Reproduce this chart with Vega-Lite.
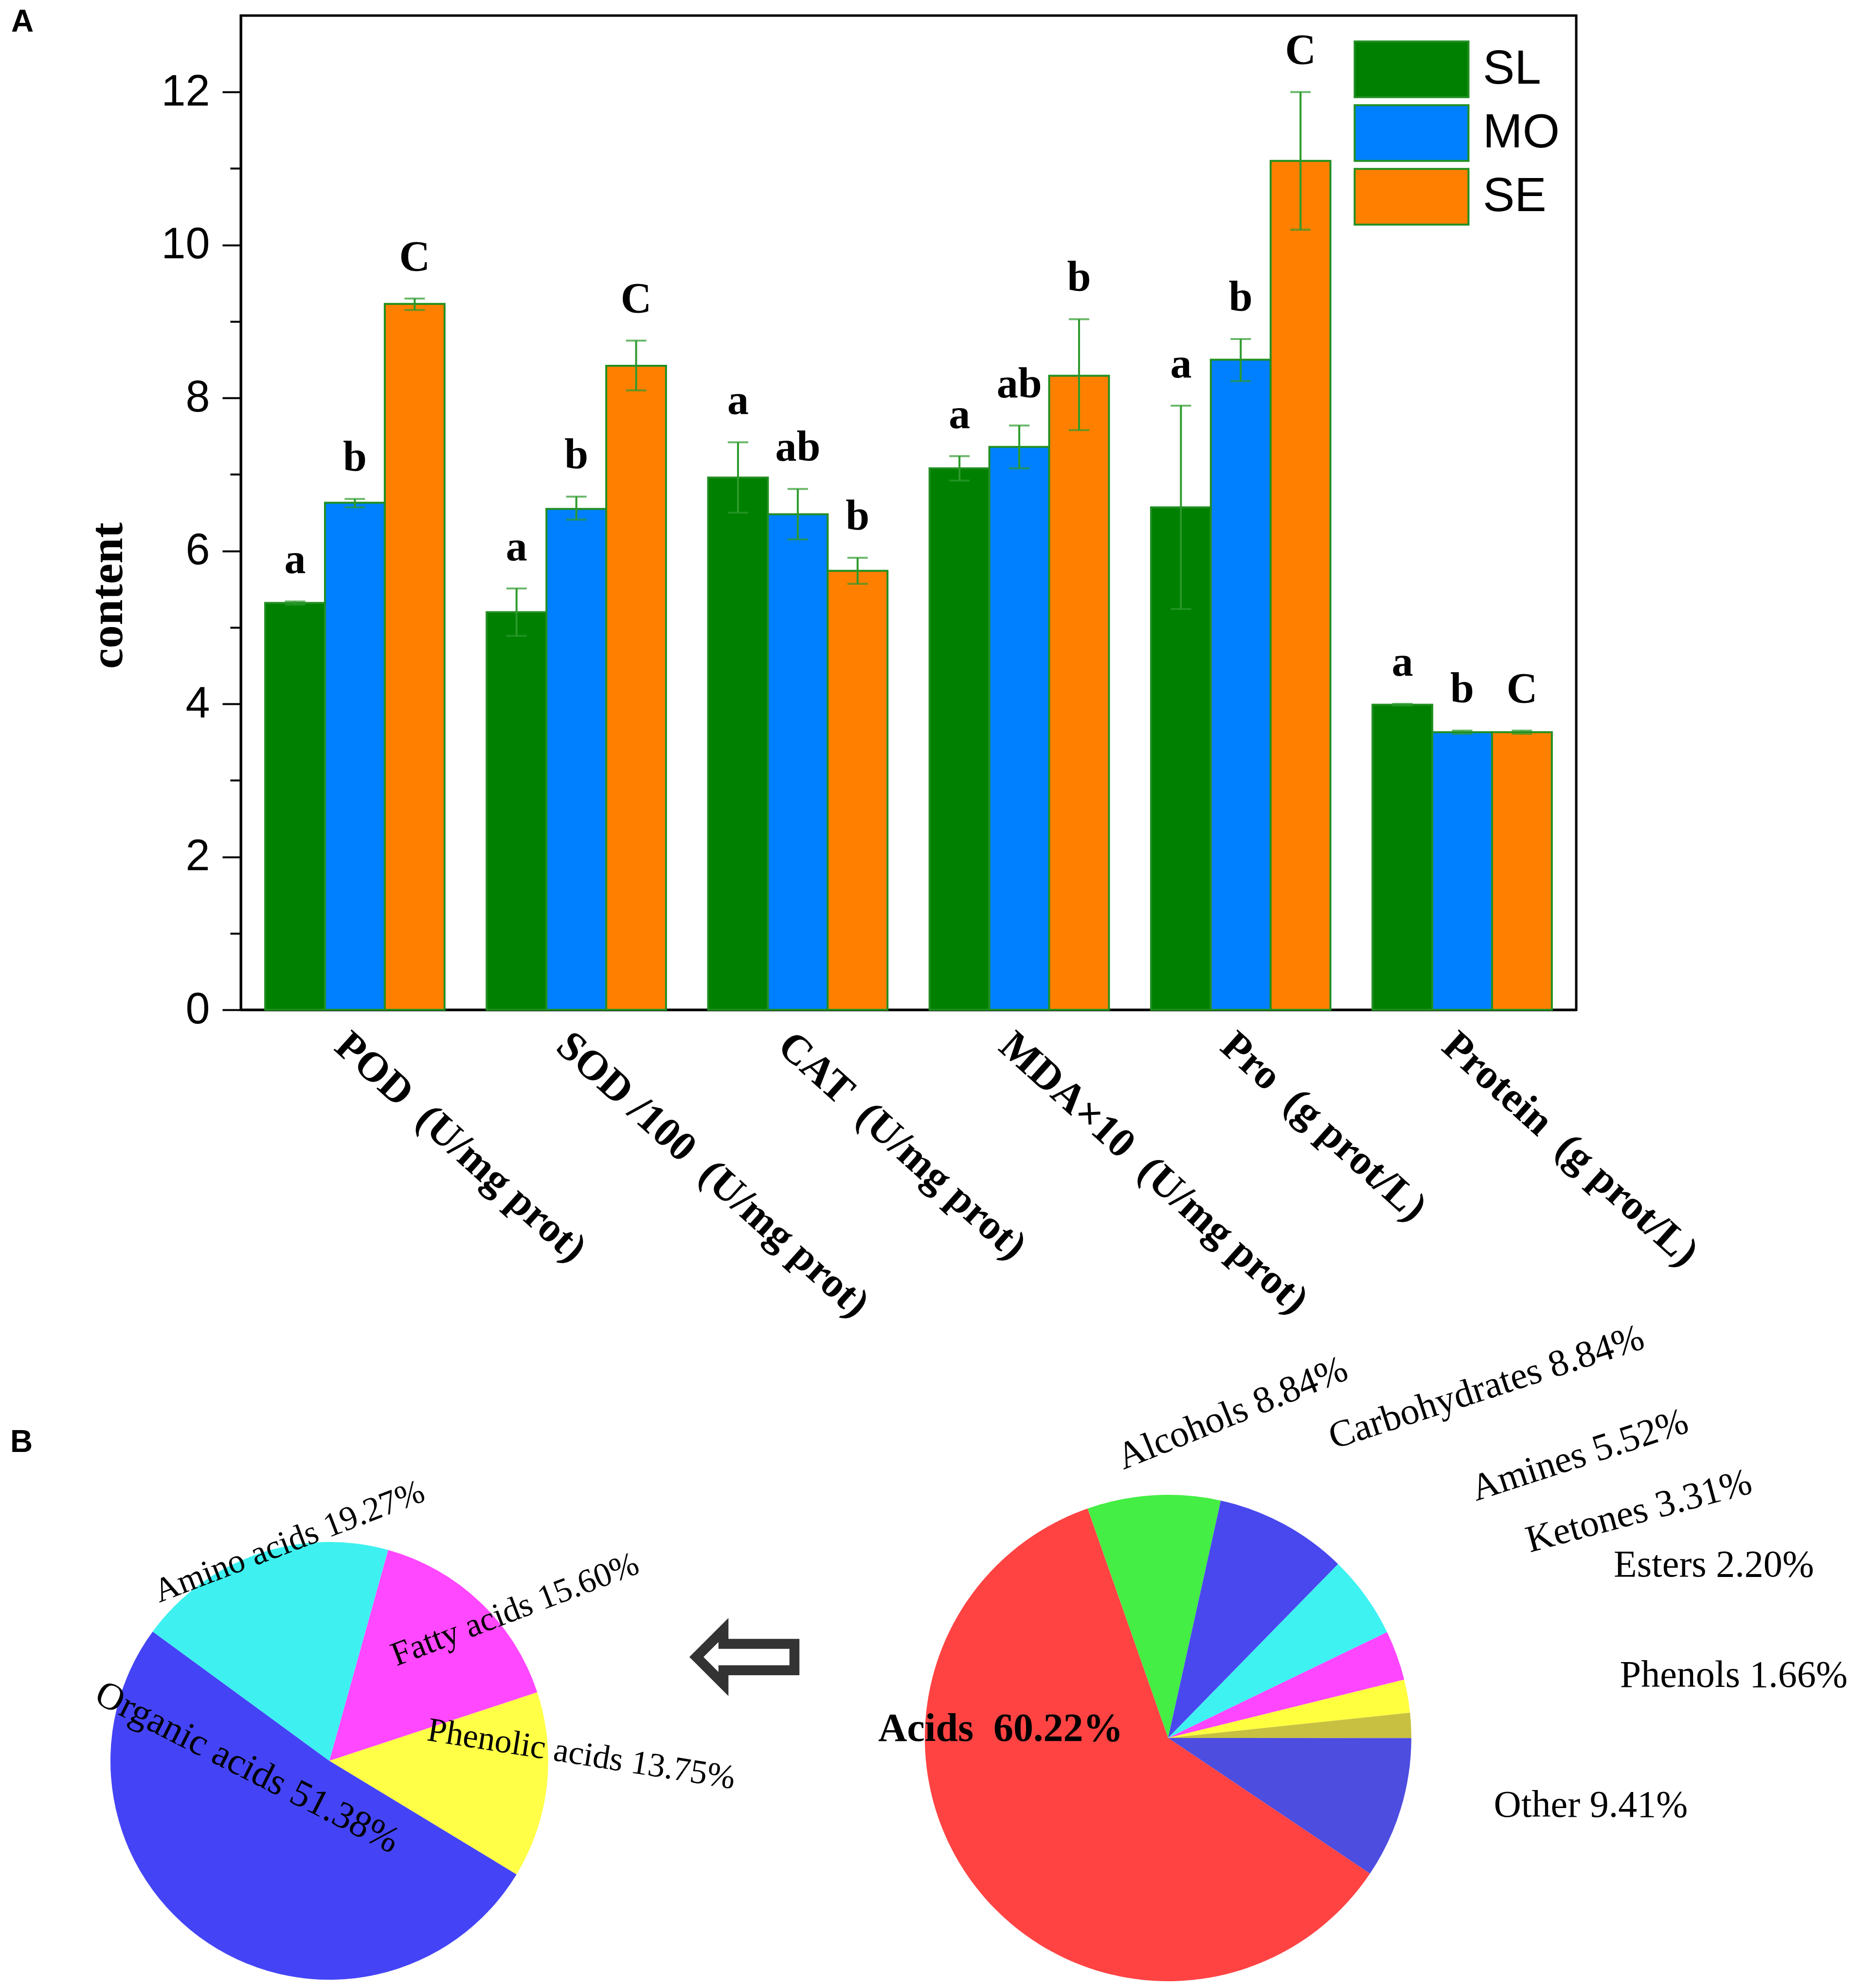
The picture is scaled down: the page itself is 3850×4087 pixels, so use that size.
{
  "$schema": "https://vega.github.io/schema/vega-lite/v6.json",
  "background": "white",
  "padding": {"left": 20, "top": 11, "right": 0, "bottom": 0},
  "config": {"view": {"stroke": null}, "font": "Liberation Sans"},
  "bounds": "flush",
  "spacing": 1300,
  "vconcat": [
    {
      "width": 2745,
      "height": 2044,
      "view": {"stroke": "black", "strokeWidth": 5},
      "title": {"text": "A", "anchor": "start", "frame": "group", "orient": "top", "font": "Liberation Sans", "fontWeight": "bold", "fontSize": 64, "color": "black", "baseline": "alphabetic", "offset": 0, "dx": -472, "dy": 97},
      "data": {"values": [
        {"cat": "POD \u00a0(U/mg prot)", "grp": "SL", "value": 5.32, "lo": 5.30, "hi": 5.34, "letter": "a"},
        {"cat": "POD \u00a0(U/mg prot)", "grp": "MO", "value": 6.63, "lo": 6.57, "hi": 6.68, "letter": "b"},
        {"cat": "POD \u00a0(U/mg prot)", "grp": "SE", "value": 9.23, "lo": 9.15, "hi": 9.30, "letter": "C"},
        {"cat": "SOD /100 \u00a0(U/mg prot)", "grp": "SL", "value": 5.20, "lo": 4.89, "hi": 5.51, "letter": "a"},
        {"cat": "SOD /100 \u00a0(U/mg prot)", "grp": "MO", "value": 6.55, "lo": 6.41, "hi": 6.71, "letter": "b"},
        {"cat": "SOD /100 \u00a0(U/mg prot)", "grp": "SE", "value": 8.42, "lo": 8.10, "hi": 8.75, "letter": "C"},
        {"cat": "CAT \u00a0(U/mg prot)", "grp": "SL", "value": 6.96, "lo": 6.50, "hi": 7.42, "letter": "a"},
        {"cat": "CAT \u00a0(U/mg prot)", "grp": "MO", "value": 6.48, "lo": 6.15, "hi": 6.81, "letter": "ab"},
        {"cat": "CAT \u00a0(U/mg prot)", "grp": "SE", "value": 5.74, "lo": 5.57, "hi": 5.91, "letter": "b"},
        {"cat": "MDA×10 \u00a0(U/mg prot)", "grp": "SL", "value": 7.08, "lo": 6.92, "hi": 7.24, "letter": "a"},
        {"cat": "MDA×10 \u00a0(U/mg prot)", "grp": "MO", "value": 7.36, "lo": 7.08, "hi": 7.64, "letter": "ab"},
        {"cat": "MDA×10 \u00a0(U/mg prot)", "grp": "SE", "value": 8.29, "lo": 7.58, "hi": 9.03, "letter": "b"},
        {"cat": "Pro \u00a0(g prot/L)", "grp": "SL", "value": 6.57, "lo": 5.24, "hi": 7.90, "letter": "a"},
        {"cat": "Pro \u00a0(g prot/L)", "grp": "MO", "value": 8.50, "lo": 8.22, "hi": 8.77, "letter": "b"},
        {"cat": "Pro \u00a0(g prot/L)", "grp": "SE", "value": 11.10, "lo": 10.20, "hi": 12.00, "letter": "C"},
        {"cat": "Protein \u00a0(g prot/L)", "grp": "SL", "value": 3.99, "lo": 3.98, "hi": 4.00, "letter": "a"},
        {"cat": "Protein \u00a0(g prot/L)", "grp": "MO", "value": 3.63, "lo": 3.61, "hi": 3.65, "letter": "b"},
        {"cat": "Protein \u00a0(g prot/L)", "grp": "SE", "value": 3.63, "lo": 3.61, "hi": 3.65, "letter": "C"}
      ]},
      "resolve": {"axis": {"y": "independent"}},
      "layer": [
        {
          "mark": {"type": "bar", "stroke": "#218f21", "strokeWidth": 4},
          "encoding": {
            "x": {"field": "cat", "type": "nominal", "sort": null, "scale": {"paddingInner": 0.19, "paddingOuter": 0.11},
              "axis": {"title": null, "labelAngle": 42, "labelAlign": "left", "labelBaseline": "top", "labelFont": "Liberation Serif", "labelFontWeight": "bold", "labelFontSize": 86, "labelColor": "black", "labelPadding": 30, "ticks": false, "domainColor": "black", "domainWidth": 5, "labelLimit": 0, "labelOverlap": false}},
            "xOffset": {"field": "grp", "type": "nominal", "sort": ["SL", "MO", "SE"], "scale": {"paddingInner": 0, "paddingOuter": 0}},
            "y": {"field": "value", "type": "quantitative", "scale": {"domain": [0, 13], "nice": false, "zero": true},
              "axis": {"title": "content", "orient": "left", "values": [0, 2, 4, 6, 8, 10, 12], "grid": false, "domainColor": "black", "domainWidth": 5, "tickColor": "black", "tickWidth": 4, "tickSize": 38, "labelFont": "Liberation Sans", "labelFontSize": 90, "labelColor": "black", "labelPadding": 26, "titleFont": "Liberation Serif", "titleFontWeight": "bold", "titleFontSize": 95, "titleColor": "black", "titlePadding": 60, "titleY": 1192}},
            "fill": {"field": "grp", "type": "nominal", "sort": ["SL", "MO", "SE"],
              "scale": {"domain": ["SL", "MO", "SE"], "range": ["#008000", "#0080ff", "#ff8000"]},
              "legend": {"orient": "none", "legendX": 2346, "legendY": 50, "title": null, "symbolType": "M-2,-0.98H2V0.98H-2Z", "symbolSize": 13689, "symbolStrokeColor": "#218f21", "symbolStrokeWidth": 4, "symbolOpacity": 1, "labelFont": "Liberation Sans", "labelFontSize": 98, "labelColor": "black", "labelOffset": 86, "rowPadding": 0, "padding": 0}}
          }
        },
        {
          "mark": {"type": "tick", "opacity": 0},
          "encoding": {
            "y": {"field": "value", "type": "quantitative",
              "axis": {"orient": "left", "values": [1, 3, 5, 7, 9, 11], "labels": false, "domain": false, "grid": false, "title": null, "tickSize": 22, "tickWidth": 4, "tickColor": "black"}}
          }
        },
        {
          "mark": {"type": "rule", "color": "#2c9a2c", "strokeWidth": 4},
          "encoding": {
            "x": {"field": "cat", "type": "nominal", "sort": null},
            "xOffset": {"field": "grp", "type": "nominal", "sort": ["SL", "MO", "SE"]},
            "y": {"field": "lo", "type": "quantitative", "axis": null},
            "y2": {"field": "hi"}
          }
        },
        {
          "mark": {"type": "tick", "color": "#2c9a2c", "thickness": 4, "size": 42, "orient": "horizontal"},
          "encoding": {
            "x": {"field": "cat", "type": "nominal", "sort": null},
            "xOffset": {"field": "grp", "type": "nominal", "sort": ["SL", "MO", "SE"]},
            "y": {"field": "lo", "type": "quantitative", "axis": null}
          }
        },
        {
          "mark": {"type": "tick", "color": "#2c9a2c", "thickness": 4, "size": 42, "orient": "horizontal"},
          "encoding": {
            "x": {"field": "cat", "type": "nominal", "sort": null},
            "xOffset": {"field": "grp", "type": "nominal", "sort": ["SL", "MO", "SE"]},
            "y": {"field": "hi", "type": "quantitative", "axis": null}
          }
        },
        {
          "mark": {"type": "text", "font": "Liberation Serif", "fontWeight": "bold", "fontSize": 88, "baseline": "alphabetic", "dy": -58, "color": "black"},
          "encoding": {
            "x": {"field": "cat", "type": "nominal", "sort": null},
            "xOffset": {"field": "grp", "type": "nominal", "sort": ["SL", "MO", "SE"]},
            "y": {"field": "hi", "type": "quantitative", "axis": null},
            "text": {"field": "letter"}
          }
        }
      ]
    },
    {
      "bounds": "flush",
      "spacing": 600,
      "resolve": {"scale": {"color": "independent", "theta": "independent"}},
      "hconcat": [
        {
          "width": 364,
          "height": 488,
          "title": {"text": "B", "anchor": "start", "frame": "group", "orient": "top", "font": "Liberation Sans", "fontWeight": "bold", "fontSize": 64, "color": "black", "baseline": "alphabetic", "offset": 0, "dx": -474, "dy": 17},
          "data": {"values": [
            {"cat": "Fatty acids", "v": 15.60, "k": 1, "label": "Fatty acids 15.60%"},
            {"cat": "Phenolic acids", "v": 13.75, "k": 2, "label": "Phenolic acids 13.75%"},
            {"cat": "Organic acids", "v": 51.38, "k": 3, "label": "Organic acids 51.38%"},
            {"cat": "Amino acids", "v": 19.27, "k": 4, "label": "Amino acids 19.27%"}
          ]},
          "layer": [
            {
              "mark": {"type": "arc", "outerRadius": 450},
              "encoding": {
                "theta": {"field": "v", "type": "quantitative", "stack": true, "scale": {"range": [0.272, 6.555]}},
                "order": {"field": "k", "type": "quantitative"},
                "color": {"field": "cat", "type": "nominal", "scale": {"domain": ["Organic acids", "Amino acids", "Fatty acids", "Phenolic acids"], "range": ["#4444f6", "#3ef0f0", "#ff48ff", "#ffff48"]}, "legend": null}
              }
            },
            {
              "mark": {"type": "text", "radius": 440, "angle": -21, "dx": 70, "dy": -10, "font": "Liberation Serif", "fontSize": 70, "color": "black"},
              "encoding": {
                "theta": {"field": "v", "type": "quantitative", "stack": true},
                "order": {"field": "k", "type": "quantitative"},
                "text": {"condition": {"test": "datum.cat !== 'Amino acids'", "value": ""}, "field": "label"}
              }
            },
            {
              "mark": {"type": "text", "radius": 440, "angle": -21, "dx": 70, "dy": 35, "font": "Liberation Serif", "fontSize": 70, "color": "black"},
              "encoding": {
                "theta": {"field": "v", "type": "quantitative", "stack": true},
                "order": {"field": "k", "type": "quantitative"},
                "text": {"condition": {"test": "datum.cat !== 'Fatty acids'", "value": ""}, "field": "label"}
              }
            },
            {
              "mark": {"type": "text", "radius": 320, "angle": 9, "dx": 190, "dy": -80, "font": "Liberation Serif", "fontSize": 70, "color": "black"},
              "encoding": {
                "theta": {"field": "v", "type": "quantitative", "stack": true},
                "order": {"field": "k", "type": "quantitative"},
                "text": {"condition": {"test": "datum.cat !== 'Phenolic acids'", "value": ""}, "field": "label"}
              }
            },
            {
              "mark": {"type": "text", "radius": 120, "angle": 27, "dx": -130, "dy": -30, "font": "Liberation Serif", "fontSize": 78, "color": "black"},
              "encoding": {
                "theta": {"field": "v", "type": "quantitative", "stack": true},
                "order": {"field": "k", "type": "quantitative"},
                "text": {"condition": {"test": "datum.cat !== 'Organic acids'", "value": ""}, "field": "label"}
              }
            }
          ]
        },
        {
          "width": 1884,
          "height": 394,
          "title": {"text": "⇦", "anchor": "start", "frame": "group", "orient": "top", "font": "DejaVu Sans", "fontSize": 300, "color": "#333333", "baseline": "alphabetic", "offset": 0, "dx": -50, "dy": 1390},
          "data": {"values": [
            {"cat": "Alcohols", "v": 8.84, "k": 1, "label": "Alcohols 8.84%"},
            {"cat": "Carbohydrates", "v": 8.84, "k": 2, "label": "Carbohydrates 8.84%"},
            {"cat": "Amines", "v": 5.52, "k": 3, "label": "Amines 5.52%"},
            {"cat": "Ketones", "v": 3.31, "k": 4, "label": "Ketones 3.31%"},
            {"cat": "Esters", "v": 2.20, "k": 5, "label": "Esters 2.20%"},
            {"cat": "Phenols", "v": 1.66, "k": 6, "label": "Phenols 1.66%"},
            {"cat": "Other", "v": 9.41, "k": 7, "label": "Other 9.41%"},
            {"cat": "Acids", "v": 60.22, "k": 8, "label": "Acids \u00a060.22%"}
          ]},
          "layer": [
            {
              "mark": {"type": "arc", "outerRadius": 500},
              "encoding": {
                "theta": {"field": "v", "type": "quantitative", "stack": true, "scale": {"range": [-0.337, 5.946]}},
                "order": {"field": "k", "type": "quantitative"},
                "color": {"field": "cat", "type": "nominal", "scale": {"domain": ["Alcohols", "Carbohydrates", "Amines", "Ketones", "Esters", "Phenols", "Other", "Acids"], "range": ["#44ee44", "#4848ee", "#3ef2f2", "#ff46ff", "#ffff40", "#c8c040", "#4d4de0", "#ff4343"]}, "legend": null}
              }
            },
            {
              "mark": {"type": "text", "radius": 600, "angle": -22, "dx": -70, "align": "left", "baseline": "middle", "font": "Liberation Serif", "fontSize": 78, "color": "black"},
              "encoding": {
                "theta": {"field": "v", "type": "quantitative", "stack": true},
                "order": {"field": "k", "type": "quantitative"},
                "text": {"condition": {"test": "datum.cat !== 'Alcohols'", "value": ""}, "field": "label"}
              }
            },
            {
              "mark": {"type": "text", "radius": 700, "angle": -18, "align": "left", "baseline": "middle", "font": "Liberation Serif", "fontSize": 78, "color": "black"},
              "encoding": {
                "theta": {"field": "v", "type": "quantitative", "stack": true},
                "order": {"field": "k", "type": "quantitative"},
                "text": {"condition": {"test": "datum.cat !== 'Carbohydrates'", "value": ""}, "field": "label"}
              }
            },
            {
              "mark": {"type": "text", "radius": 790, "angle": -18, "dy": -50, "align": "left", "baseline": "middle", "font": "Liberation Serif", "fontSize": 78, "color": "black"},
              "encoding": {
                "theta": {"field": "v", "type": "quantitative", "stack": true},
                "order": {"field": "k", "type": "quantitative"},
                "text": {"condition": {"test": "datum.cat !== 'Amines'", "value": ""}, "field": "label"}
              }
            },
            {
              "mark": {"type": "text", "radius": 820, "angle": -15, "dy": -130, "align": "left", "baseline": "middle", "font": "Liberation Serif", "fontSize": 78, "color": "black"},
              "encoding": {
                "theta": {"field": "v", "type": "quantitative", "stack": true},
                "order": {"field": "k", "type": "quantitative"},
                "text": {"condition": {"test": "datum.cat !== 'Ketones'", "value": ""}, "field": "label"}
              }
            },
            {
              "mark": {"type": "text", "radius": 930, "dy": -195, "align": "left", "baseline": "middle", "font": "Liberation Serif", "fontSize": 78, "color": "black"},
              "encoding": {
                "theta": {"field": "v", "type": "quantitative", "stack": true},
                "order": {"field": "k", "type": "quantitative"},
                "text": {"condition": {"test": "datum.cat !== 'Esters'", "value": ""}, "field": "label"}
              }
            },
            {
              "mark": {"type": "text", "radius": 930, "dy": -80, "align": "left", "baseline": "middle", "font": "Liberation Serif", "fontSize": 78, "color": "black"},
              "encoding": {
                "theta": {"field": "v", "type": "quantitative", "stack": true},
                "order": {"field": "k", "type": "quantitative"},
                "text": {"condition": {"test": "datum.cat !== 'Phenols'", "value": ""}, "field": "label"}
              }
            },
            {
              "mark": {"type": "text", "radius": 700, "dy": -65, "align": "left", "baseline": "middle", "font": "Liberation Serif", "fontSize": 78, "color": "black"},
              "encoding": {
                "theta": {"field": "v", "type": "quantitative", "stack": true},
                "order": {"field": "k", "type": "quantitative"},
                "text": {"condition": {"test": "datum.cat !== 'Other'", "value": ""}, "field": "label"}
              }
            },
            {
              "mark": {"type": "text", "radius": 100, "dx": -265, "dy": -80, "font": "Liberation Serif", "fontWeight": "bold", "fontSize": 82, "color": "black"},
              "encoding": {
                "theta": {"field": "v", "type": "quantitative", "stack": true},
                "order": {"field": "k", "type": "quantitative"},
                "text": {"condition": {"test": "datum.cat !== 'Acids'", "value": ""}, "field": "label"}
              }
            }
          ]
        }
      ]
    }
  ]
}
